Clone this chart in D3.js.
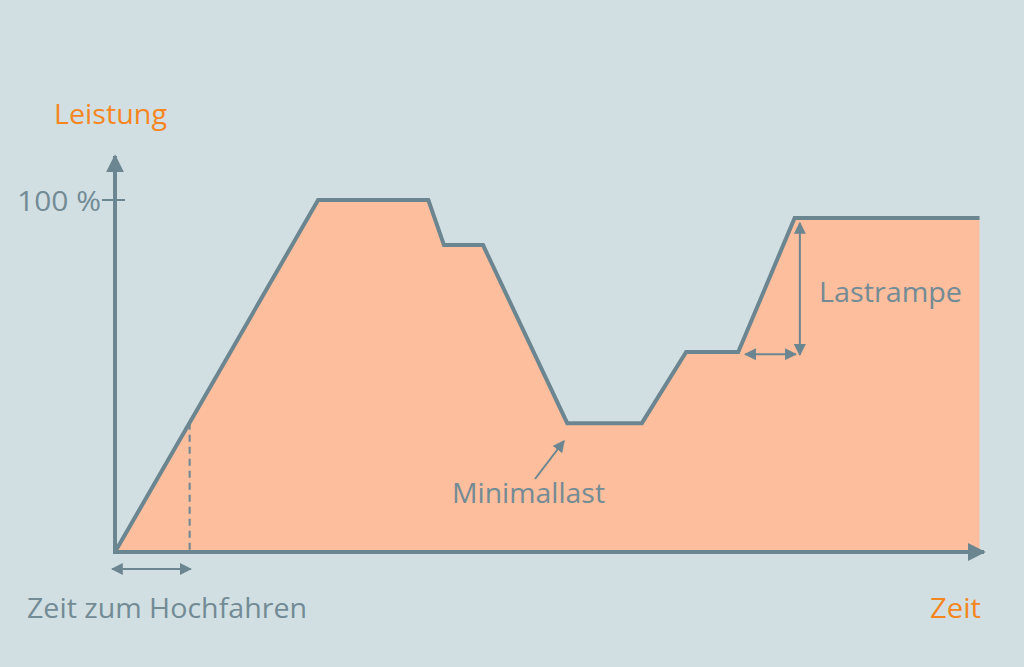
<!DOCTYPE html>
<html><head><meta charset="utf-8">
<script src="https://cdn.jsdelivr.net/npm/d3@7/dist/d3.min.js"></script>
<style>html,body{margin:0;padding:0;background:#d1dfe3;}svg{display:block;}</style>
</head><body>
<script>
// Data: time (arbitrary units) and power (%)
const times = [0, 23.4, 36.1, 37.9, 42.4, 52.1, 60.7, 65.8, 71.8, 78.3, 99.6];
const power = [0, 100, 100, 87.2, 87.2, 36.6, 36.6, 56.8, 56.8, 94.9, 94.9];
const yTickLabels = ["100 %"];
const yTickValues = [100];
const rampUpTime = 8.6;     // "Zeit zum Hochfahren"
const rampStart = 72.6, rampEnd = 78.9; // Lastrampe horizontal arrow
const labels = {yTitle: "Leistung", xTitle: "Zeit", ramp: "Zeit zum Hochfahren", min: "Minimallast", lastrampe: "Lastrampe"};

const W = 1024, H = 667;
const grey = "#6b8690", textGrey = "#728b95", orange = "#f5861f", fillC = "#fdbe9d";
const svg = d3.select("body").append("svg").attr("width", W).attr("height", H);
svg.append("rect").attr("width", W).attr("height", H).attr("fill", "#d1dfe3");

const x = d3.scaleLinear().domain([0, 100]).range([115, 983]);
const y = d3.scaleLinear().domain([0, 100]).range([552, 200]);
const data = times.map((t, i) => ({t, p: power[i]}));

const defs = svg.append("defs");
function marker(id, size) {
  defs.append("marker").attr("id", id).attr("viewBox", "0 0 10 10").attr("refX", 9).attr("refY", 5)
    .attr("markerWidth", size).attr("markerHeight", size).attr("markerUnits", "userSpaceOnUse").attr("orient", "auto-start-reverse")
    .append("path").attr("d", "M0,0 L10,5 L0,10 Z").attr("fill", grey);
}
marker("arrBig", 18);
marker("arrSmall", 12);

// area
svg.append("path").datum(data)
  .attr("d", d3.area().x(d => x(d.t)).y0(y(0)).y1(d => y(d.p)))
  .attr("fill", fillC);

// dashed ramp-up marker
const pRamp = d3.scaleLinear().domain([0, 23.4]).range([0, 100])(rampUpTime);
svg.append("line").attr("x1", x(rampUpTime)).attr("x2", x(rampUpTime)).attr("y1", y(pRamp)).attr("y2", y(0))
  .attr("stroke", grey).attr("stroke-width", 2).attr("stroke-dasharray", "7,5");

// line
svg.append("path").datum(data)
  .attr("d", d3.line().x(d => x(d.t)).y(d => y(d.p)))
  .attr("fill", "none").attr("stroke", grey).attr("stroke-width", 4).attr("stroke-linejoin", "miter");

// axes
svg.append("line").attr("x1", x(0)).attr("x2", x(0)).attr("y1", y(0) + 2).attr("y2", 156)
  .attr("stroke", grey).attr("stroke-width", 4).attr("marker-end", "url(#arrBig)");
svg.append("line").attr("x1", x(0) - 2).attr("x2", 984).attr("y1", y(0)).attr("y2", y(0))
  .attr("stroke", grey).attr("stroke-width", 4).attr("marker-end", "url(#arrBig)");

const font = "'Open Sans', sans-serif";
function label(txt, xx, yy, color, width, anchor) {
  svg.append("text").attr("x", xx).attr("y", yy).attr("text-anchor", anchor || "start")
    .attr("font-family", font).attr("font-size", 28).attr("font-weight", 500).attr("fill", color)
    .attr("textLength", width).attr("lengthAdjust", "spacingAndGlyphs").text(txt);
}
// y tick
yTickValues.forEach((v, i) => {
  svg.append("line").attr("x1", x(0) - 13).attr("x2", x(0) + 10).attr("y1", y(v)).attr("y2", y(v))
    .attr("stroke", grey).attr("stroke-width", 2);
  label(yTickLabels[i], 17, y(v) + 11, textGrey, 84);
});

label(labels.yTitle, 54, 124, orange, 113);
label(labels.xTitle, 930, 618, orange, 51);
label(labels.ramp, 27, 618, textGrey, 280);
label(labels.min, 452, 503, textGrey, 153);
label(labels.lastrampe, 819, 302, textGrey, 143);

// ramp-up double arrow
svg.append("line").attr("x1", x(0) - 3).attr("x2", x(rampUpTime) + 1).attr("y1", 569).attr("y2", 569)
  .attr("stroke", grey).attr("stroke-width", 2)
  .attr("marker-start", "url(#arrSmall)").attr("marker-end", "url(#arrSmall)");

// Lastrampe arrows
svg.append("line").attr("x1", x(rampStart)).attr("x2", x(rampEnd) - 4).attr("y1", y(56.2)).attr("y2", y(56.2))
  .attr("stroke", grey).attr("stroke-width", 2)
  .attr("marker-start", "url(#arrSmall)").attr("marker-end", "url(#arrSmall)");
svg.append("line").attr("x1", x(78.9)).attr("x2", x(78.9)).attr("y1", y(93.5)).attr("y2", y(56.0))
  .attr("stroke", grey).attr("stroke-width", 2)
  .attr("marker-start", "url(#arrSmall)").attr("marker-end", "url(#arrSmall)");

// Minimallast pointer
svg.append("line").attr("x1", 535).attr("x2", 564).attr("y1", 479).attr("y2", 441)
  .attr("stroke", grey).attr("stroke-width", 2).attr("marker-end", "url(#arrSmall)");
</script>
</body></html>
